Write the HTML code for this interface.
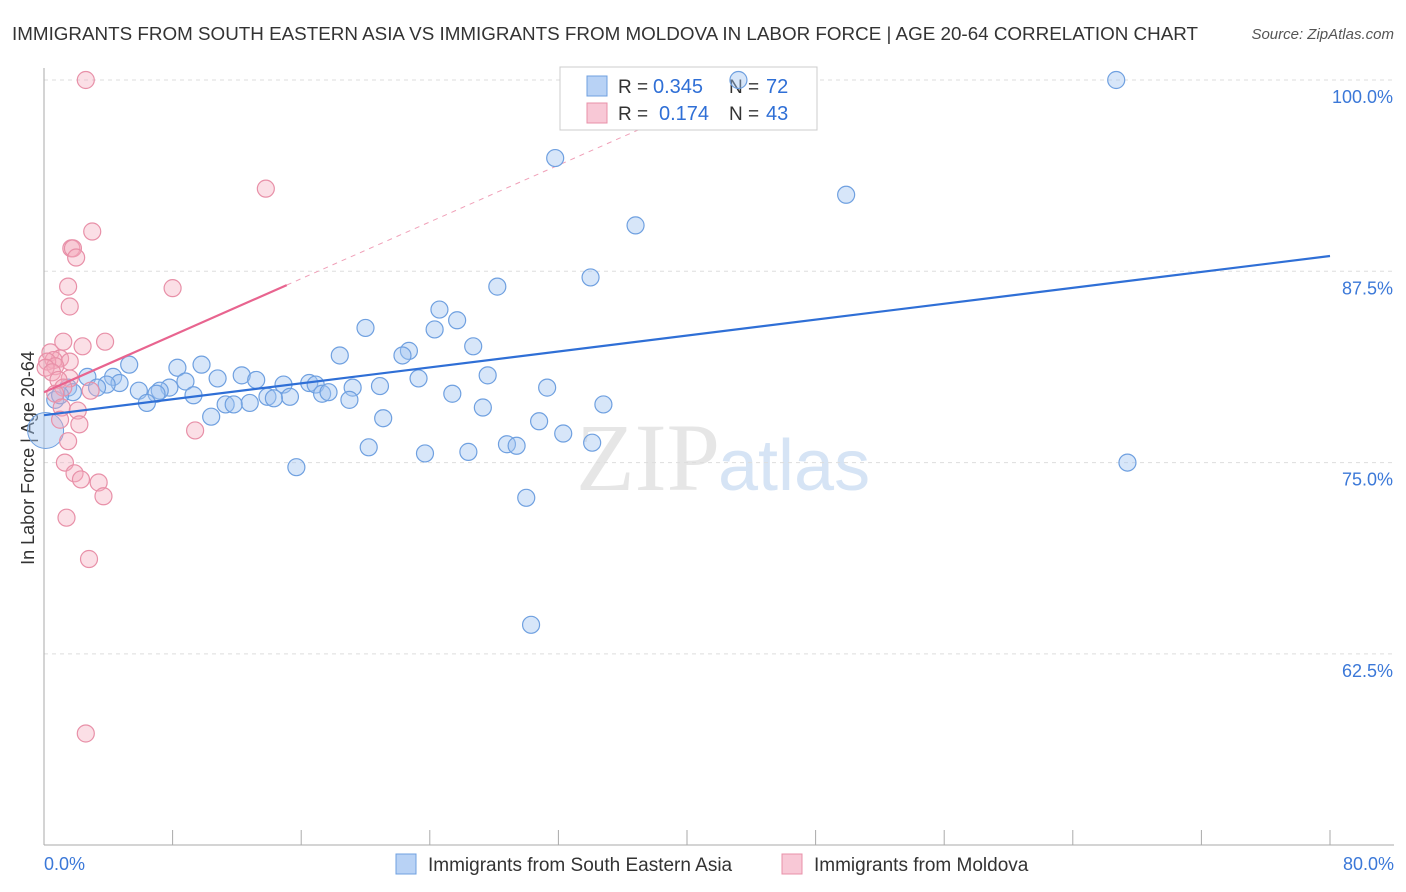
<!DOCTYPE html>
<html><head><meta charset="utf-8"><style>
body{margin:0;background:#fff;font-family:"Liberation Sans",sans-serif;}
svg{display:block}
</style></head><body>
<svg id="c" width="1406" height="892">
<text x="12" y="40" font-size="18" fill="#333" textLength="1186" lengthAdjust="spacingAndGlyphs">IMMIGRANTS FROM SOUTH EASTERN ASIA VS IMMIGRANTS FROM MOLDOVA IN LABOR FORCE | AGE 20-64 CORRELATION CHART</text>
<text x="1394" y="39" font-size="15" fill="#555" text-anchor="end" font-style="italic">Source: ZipAtlas.com</text>
<text x="720" y="490" font-size="96" fill="#e6e6e6" text-anchor="end" font-family="Liberation Serif">ZIP</text>
<text x="718" y="490" font-size="72" fill="#d6e4f5">atlas</text>
<text transform="translate(34,458) rotate(-90)" font-size="18" fill="#333" text-anchor="middle">In Labor Force | Age 20-64</text>
<g id="grid"></g>
<g>
<rect x="560" y="67" width="257" height="63" fill="#fff" stroke="#ccc"/>
<rect x="587" y="76" width="20" height="20" fill="#b8d2f5" stroke="#6fa0e0"/>
<rect x="587" y="103" width="20" height="20" fill="#f8c8d6" stroke="#e890a8"/>
<text x="618" y="93" font-size="19" fill="#333">R =</text>
<text x="653" y="93" font-size="20" fill="#2f6fd6">0.345</text>
<text x="729" y="93" font-size="19" fill="#333">N =</text>
<text x="766" y="93" font-size="20" fill="#2f6fd6">72</text>
<text x="618" y="120" font-size="19" fill="#333">R =</text>
<text x="659" y="120" font-size="20" fill="#2f6fd6">0.174</text>
<text x="729" y="120" font-size="19" fill="#333">N =</text>
<text x="766" y="120" font-size="20" fill="#2f6fd6">43</text>
</g>
<g id="marks"></g>
<g>
<rect x="396" y="854" width="20" height="20" fill="#b8d2f5" stroke="#6fa0e0"/>
<text x="428" y="871" font-size="19" fill="#333">Immigrants from South Eastern Asia</text>
<rect x="782" y="854" width="20" height="20" fill="#f8c8d6" stroke="#e890a8"/>
<text x="814" y="871" font-size="19" fill="#333">Immigrants from Moldova</text>
</g>
<text x="44" y="870" font-size="18" fill="#3b78d8">0.0%</text>
<text x="1394" y="870" font-size="18" fill="#3b78d8" text-anchor="end">80.0%</text>
</svg>
<script>
const yTicks=[100,87.5,75,62.5];
const yTickLabels=["100.0%","87.5%","75.0%","62.5%"];
const xTicks=[0,8,16,24,32,40,48,56,64,72,80];
const blueX=[43.2,66.7,31.8,49.9,36.8,34.0,28.2,24.6,25.7,20.0,24.3,26.7,22.7,18.4,22.3,5.3,8.3,9.8,27.6,12.3,10.8,4.3,2.7,13.2,8.8,23.3,4.7,3.9,14.9,16.5,16.9,20.9,19.2,31.3,7.8,1.5,3.3,5.9,7.2,7.0,1.8,9.3,17.3,17.7,25.4,13.9,15.3,14.3,19.0,6.4,12.8,11.3,11.8,34.8,27.3,10.4,21.1,30.8,32.3,34.1,20.2,28.8,29.4,23.7,26.4,15.7,67.4,30.0,30.3,0.7,1.0];
const blueY=[100,100,94.9,92.5,90.5,87.1,86.5,85.0,84.3,83.8,83.7,82.6,82.3,82.0,82.0,81.4,81.2,81.4,80.7,80.7,80.5,80.6,80.6,80.4,80.3,80.5,80.2,80.1,80.1,80.2,80.1,80.0,79.9,79.9,79.9,79.9,79.9,79.7,79.7,79.5,79.6,79.4,79.5,79.6,79.5,79.3,79.3,79.2,79.1,78.9,78.9,78.8,78.8,78.8,78.6,78.0,77.9,77.7,76.9,76.3,76.0,76.2,76.1,75.6,75.7,74.7,75.0,72.7,64.4,79.1,79.4];
const pinkX=[2.6,13.8,3.0,1.7,1.8,2.0,8.0,1.5,1.6,1.2,3.8,2.4,0.4,1.0,0.6,0.2,1.6,0.7,0.1,0.5,1.6,0.9,1.2,2.9,0.7,1.1,2.1,1.0,2.2,9.4,1.5,1.3,1.9,2.3,3.4,3.7,1.4,2.8,2.6];
const pinkY=[100,92.9,90.1,89.0,89.0,88.4,86.4,86.5,85.2,82.9,82.9,82.6,82.2,81.8,81.7,81.6,81.6,81.3,81.2,80.9,80.5,80.4,79.9,79.7,79.5,78.6,78.4,77.8,77.5,77.1,76.4,75.0,74.3,73.9,73.7,72.8,71.4,68.7,57.3];
const blueTrend=[78.1,88.5];
const pinkTrend=[79.6,86.6,15.1];
const sx=v=>44+v/80*1286, sy=v=>80+(100-v)/12.5*191.3;
const NS="http://www.w3.org/2000/svg";
function mk(t,a,p){const e=document.createElementNS(NS,t);for(const k in a)e.setAttribute(k,a[k]);p.appendChild(e);return e;}
const g=document.getElementById('grid'),m=document.getElementById('marks');
yTicks.forEach((v,i)=>{
 const l=mk('line',{x1:44,x2:1394,y1:sy(v),y2:sy(v),stroke:'#ddd','stroke-dasharray':'4,4'},g);
 
 
 const t=mk('text',{x:1393,y:sy(v)+23,'font-size':18,fill:'#3b78d8','text-anchor':'end'},g);t.textContent=yTickLabels[i];
 
 
});
mk('line',{x1:44,x2:44,y1:68,y2:845,stroke:'#aaa'},g);
mk('line',{x1:44,x2:1394,y1:845,y2:845,stroke:'#aaa'},g);
xTicks.forEach(v=>{const t=mk('line',{x1:sx(v),x2:sx(v),y1:830,y2:845,stroke:'#aaa'},g);
 
 });
const slope=(pinkTrend[1]-pinkTrend[0])/pinkTrend[2];
const xe=(100-pinkTrend[0])/slope;
const pd=mk('line',{x1:sx(pinkTrend[2]),y1:sy(pinkTrend[1]),x2:sx(xe),y2:sy(pinkTrend[0]+slope*xe),stroke:'#f0a0b8','stroke-width':1,'stroke-dasharray':'5,5'},g);


const big=mk('circle',{cx:sx(0.1),cy:sy(77.1),r:18,fill:'rgba(160,196,240,0.45)',stroke:'#6fa0e0'},m);


blueX.forEach((x,i)=>{const c=mk('circle',{cx:sx(x),cy:sy(blueY[i]),r:8.5,fill:'rgba(160,196,240,0.42)',stroke:'#6fa0e0','stroke-width':1.2},m);
 
 });
pinkX.forEach((x,i)=>{const c=mk('circle',{cx:sx(x),cy:sy(pinkY[i]),r:8.5,fill:'rgba(245,170,190,0.38)',stroke:'#e890a8','stroke-width':1.2},m);
 
 });
const bl=mk('line',{x1:sx(0),y1:sy(blueTrend[0]),x2:sx(80),y2:sy(blueTrend[1]),stroke:'#2f6fd6','stroke-width':2.2},m);


const pl=mk('line',{x1:sx(0),y1:sy(pinkTrend[0]),x2:sx(pinkTrend[2]),y2:sy(pinkTrend[1]),stroke:'#e8648f','stroke-width':2.2},m);


</script>
</body></html>
